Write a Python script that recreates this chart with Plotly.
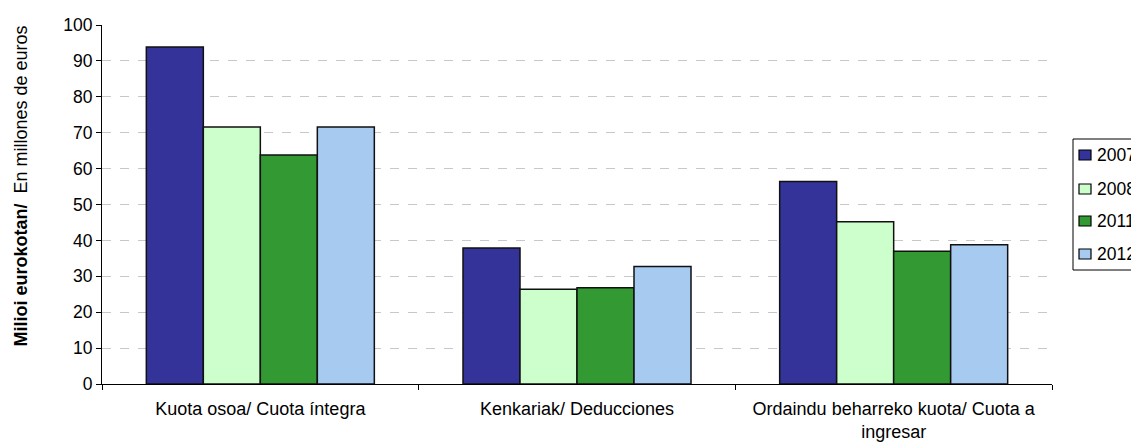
import plotly.graph_objects as go

categories = ["Kuota osoa/ Cuota íntegra", "Kenkariak/ Deducciones",
              "Ordaindu beharreko kuota/ Cuota a<br>ingresar"]
years = ["2007", "2008", "2011", "2012"]
v2007 = [93.9, 37.9, 56.4]
v2008 = [71.6, 26.4, 45.2]
v2011 = [63.8, 26.8, 37.0]
v2012 = [71.6, 32.7, 38.8]
colors = ["#333399", "#CCFFCC", "#339933", "#A6CAF0"]
series = [v2007, v2008, v2011, v2012]

# layout geometry (figure pixels)
W, H = 1131, 435
L, R, T, B = 94, 87, 17, 59
PW, PH = W - L - R, H - T - B


def px(x):
    return (x - L) / PW


def py(y):
    return 1 - (y - T) / PH


FS = 17.5
fig = go.Figure()
for yr, vals, c in zip(years, series, colors):
    fig.add_trace(go.Bar(x=categories, y=vals, name=yr, showlegend=False,
                         marker=dict(color=c, line=dict(color="#111111", width=1.5))))

shapes = [dict(type="rect", xref="paper", yref="paper",
               x0=px(1065), x1=px(1150), y0=py(262), y1=py(131),
               line=dict(color="black", width=1), fillcolor="white", layer="above")]
annotations = [dict(text="<b>Milioi eurokotan/</b>  En millones de euros",
                    xref="paper", yref="paper", x=px(12), y=py(178.5),
                    xanchor="center", yanchor="middle", textangle=-90,
                    showarrow=False, font=dict(size=18))]
centers = [147, 181, 213, 246]
for yr, c, cy in zip(years, colors, centers):
    shapes.append(dict(type="rect", xref="paper", yref="paper",
                       x0=px(1071), x1=px(1083), y0=py(cy + 5), y1=py(cy - 5),
                       line=dict(color="black", width=1.2), fillcolor=c, layer="above"))
    annotations.append(dict(text=yr, xref="paper", yref="paper", x=px(1087), y=py(cy),
                            xanchor="left", yanchor="middle", showarrow=False,
                            font=dict(size=FS)))

fig.update_layout(
    width=W, height=H,
    margin=dict(l=L, r=R, t=T, b=B, autoexpand=False),
    paper_bgcolor="white", plot_bgcolor="white",
    font=dict(family="Liberation Sans, Arial", size=FS, color="black"),
    barmode="group", bargap=0.28, bargroupgap=0,
    showlegend=False,
    shapes=shapes, annotations=annotations,
)
fig.update_yaxes(range=[0, 100], dtick=10, showline=True, linecolor="black",
                 ticks="outside", ticklen=5, tickcolor="black",
                 gridcolor="#C8C8C8", griddash="dash", zeroline=False,
                 automargin=False)
fig.update_xaxes(showline=True, linecolor="black", ticks="outside",
                 tickson="boundaries", ticklen=5, tickcolor="black",
                 tickfont=dict(size=18), ticklabelstandoff=8,
                 automargin=False)
fig.write_html("out.html")
